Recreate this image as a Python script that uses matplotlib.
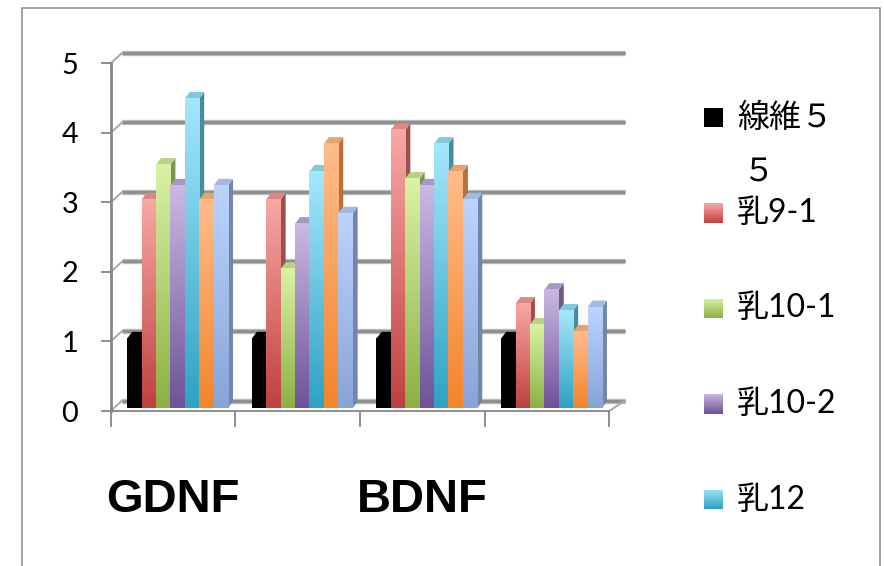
import numpy as np
import matplotlib
matplotlib.use("Agg")
import matplotlib.pyplot as plt
from matplotlib.patches import Polygon, Rectangle
from matplotlib.colors import to_rgb

# ---------------- data ----------------
categories = ["GDNF", "", "BDNF", ""]
legend_labels = ["線維５\n５", "乳9-1", "乳10-1", "乳10-2", "乳12"]

s_fibro55 = [1.0, 1.0, 1.0, 1.0]
s_nyu9_1 = [3.0, 3.0, 4.0, 1.5]
s_nyu10_1 = [3.5, 2.0, 3.3, 1.2]
s_nyu10_2 = [3.2, 2.65, 3.2, 1.7]
s_nyu12 = [4.45, 3.4, 3.8, 1.4]
s_sixth = [3.0, 3.8, 3.4, 1.1]
s_seventh = [3.2, 2.8, 3.0, 1.45]

y_ticks = [0, 1, 2, 3, 4, 5]

series = [s_fibro55, s_nyu9_1, s_nyu10_1, s_nyu10_2, s_nyu12, s_sixth, s_seventh]

# gradient colours (top -> bottom) for each series
grad_top = ["#000000", "#F8A7A5", "#D9F2A4", "#CAB8E3", "#A4E7FC", "#FFBC8A", "#BCD3FF"]
grad_bot = ["#000000", "#C0413F", "#8DB046", "#6E5399", "#2FA2C2", "#F3852B", "#88A4D7"]

# ---------------- geometry (pixels) ----------------
W, H = 884, 566
GW = 124.65          # px per category
VH = 69.54           # px per unit value
AX_L, AX_R = 110.7, 609.3
AX_B, AX_T = 411.0, 63.3

base = 3.0 / VH      # bars stand slightly behind the front floor edge
bw = 14.4 / GW       # bar width
s0 = 16.5 / GW       # offset of first bar in a group
ddx, ddy = 5.0 / GW, 6.6 / VH        # bar depth (oblique)
wdx, wdy = 11.5 / GW, 10.5 / VH      # back wall offset
wall_right = 4 + 15.7 / GW

FONT = ["Lato", "Noto Sans CJK JP"]
GRID_C = "#8f8f8f"
AXIS_C = "#868686"


def fx(px):
    return px / W


def fy(py):
    return 1 - py / H


def mix(c1, c2, t):
    a, b = np.array(to_rgb(c1)), np.array(to_rgb(c2))
    return tuple(a * (1 - t) + b * t)


fig = plt.figure(figsize=(W / 100, H / 100), dpi=100)
fig.patch.set_facecolor("white")

# chart border
fig.add_artist(Rectangle((fx(22.3), fy(575)), fx(880) - fx(22.3), fy(8.3) - fy(575),
                         transform=fig.transFigure, fill=False, edgecolor=AXIS_C,
                         linewidth=1.1))

ax = fig.add_axes([fx(AX_L), fy(AX_B), (AX_R - AX_L) / W, (AX_B - AX_T) / H])
ax.set_facecolor("none")

# back wall gridlines with little side-wall stubs
for k in y_ticks:
    ax.plot([wdx, wall_right], [k + wdy, k + wdy], color="#c4c4c4", lw=3.9,
            solid_capstyle="butt", clip_on=False, zorder=1)
    ax.plot([wdx, wall_right], [k + wdy, k + wdy], color=GRID_C, lw=2.4,
            solid_capstyle="butt", clip_on=False, zorder=1.1)
    ax.plot([0, wdx], [k, k + wdy], color="#a8a8a8", lw=1.4, clip_on=False, zorder=1.2)
# right edge of floor
ax.plot([4, wall_right], [0, wdy], color="#a8a8a8", lw=1.4, clip_on=False, zorder=1.2)

# bars
z = 3.0
ncat = len(categories)
for gi in range(ncat):
    for si, vals in enumerate(series):
        v = vals[gi]
        x0 = gi + s0 + si * bw
        x1 = x0 + bw
        y0 = base
        y1 = base + v
        top_c, bot_c = grad_top[si], grad_bot[si]
        side_c = mix(mix(top_c, bot_c, 0.55), "#000000", 0.28)
        cap_c = mix(mix(top_c, bot_c, 0.2), "#000000", 0.08)
        # side face
        ax.add_patch(Polygon([(x1, y0), (x1 + ddx, y0 + ddy), (x1 + ddx, y1 + ddy), (x1, y1)],
                             closed=True, facecolor=side_c, edgecolor="none", zorder=z))
        # top face
        ax.add_patch(Polygon([(x0, y1), (x1, y1), (x1 + ddx, y1 + ddy), (x0 + ddx, y1 + ddy)],
                             closed=True, facecolor=cap_c, edgecolor="none", zorder=z + 0.001))
        # front face with vertical gradient
        n = 64
        t = np.linspace(0, 1, n)[:, None]
        grad = (np.array(to_rgb(top_c))[None, :] * (1 - t) +
                np.array(to_rgb(bot_c))[None, :] * t)[:, None, :]
        ax.imshow(grad, extent=[x0, x1, y0, y1], aspect="auto", origin="upper",
                  interpolation="bilinear", zorder=z + 0.002)
        z += 0.01

ax.set_xlim(0, 4)
ax.set_ylim(0, 5)

# axes styling
for sp in ("top", "right"):
    ax.spines[sp].set_visible(False)
ax.spines["left"].set_color(AXIS_C)
ax.spines["left"].set_linewidth(2.0)
ax.spines["bottom"].set_color(AXIS_C)
ax.spines["bottom"].set_linewidth(1.3)
ax.spines["left"].set_zorder(10)
ax.spines["bottom"].set_zorder(10)

ax.set_yticks(y_ticks)
ax.set_yticklabels([str(v) for v in y_ticks], fontfamily=FONT, fontsize=20.8)
ax.tick_params(axis="y", direction="out", length=7.5, width=1.3, color=AXIS_C, pad=16)

ax.set_xticks(range(ncat + 1))
ax.set_xticklabels([""] * (ncat + 1))
ax.tick_params(axis="x", which="major", direction="out", length=11.5, width=1.3, color=AXIS_C)
ax.set_xticks([i + 0.5 for i in range(ncat)], minor=True)
ax.set_xticklabels(categories, minor=True, fontfamily="Liberation Sans",
                   fontweight="bold", fontsize=34)
ax.tick_params(axis="x", which="minor", length=0, pad=48)

# legend (first five series)
mk_x0, mk_x1 = 704, 723
mk_h = 20
row0, row_step = 117.5, 95.5
for i, lab in enumerate(legend_labels):
    cy = row0 + i * row_step
    lax = fig.add_axes([fx(mk_x0), fy(cy + mk_h / 2), (mk_x1 - mk_x0) / W, mk_h / H])
    t = np.linspace(0, 1, 32)[:, None]
    grad = (np.array(to_rgb(grad_top[i]))[None, :] * (1 - t) +
            np.array(to_rgb(grad_bot[i]))[None, :] * t)[:, None, :]
    lax.imshow(grad, extent=[0, 1, 0, 1], aspect="auto", origin="upper",
               interpolation="bilinear")
    lax.set_axis_off()
    for j, line in enumerate(lab.split("\n")):
        fig.text(fx(736.7 + (6 if j else 0)), fy(cy + j * 54), line, fontfamily=FONT,
                 fontsize=23, va="center", ha="left", color="black")

fig.savefig("out.png", dpi=100, facecolor="white")
